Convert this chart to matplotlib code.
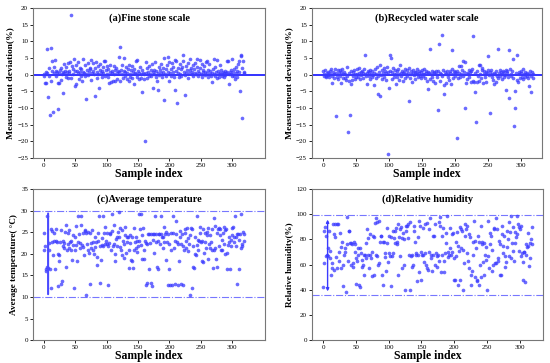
import numpy as np
import matplotlib
matplotlib.use('Agg')
import matplotlib.pyplot as plt

plt.rcParams['font.family'] = ['Liberation Serif', 'DejaVu Serif']

# Measurement deviation (%) of the fine stone scale
fine_dev = [
    -0.5, 0.3, -2.6, -2.5, 0.8, 7.7, 0.5, -6.6, -0.3, 2.0, -12.0, -1.8, 8.0, 4.0, 1.1, -11.3, 0.6, 2.3, 4.4, 1.2,
    -0.5, 0.9, -10.2, -2.5, -2.6, 0.4, 1.4, -1.5, 1.9, 0.2, -5.4, 0.8, 3.2, 0.6, 1.0, -0.7, 2.4, 0.8, 3.6, -0.9,
    1.0, 0.6, 3.9, 18.0, -1.0, 2.5, 1.7, 0.3, 4.6, 1.1, -3.5, 3.0, -2.8, 1.0, 3.7, 0.4, -1.2, 2.0, 0.7, -0.5,
    1.6, -1.8, 0.8, 4.7, 0.5, -0.4, 2.9, 0.2, -7.2, 1.3, 3.4, -0.2, 0.9, 1.7, 2.1, 4.5, -1.5, 0.6, 3.5, 1.0,
    0.3, 1.9, -6.5, 3.7, 0.8, -1.0, 2.6, 0.2, -4.0, 3.1, 1.4, 0.5, -0.6, 1.2, 2.2, 0.4, 4.0, -0.3, 4.1, 1.5,
    0.2, 2.5, -0.8, 1.6, -2.4, 0.7, 3.0, -2.2, 1.1, 0.6, -2.0, 2.7, 0.1, 1.3, -1.9, 2.0, 0.4, -1.4, 1.0, 0.9,
    5.3, 8.3, -2.0, 1.5, 0.2, 3.0, -0.9, 1.2, 5.1, -0.4, 0.8, 2.3, -1.2, 0.5, 1.7, -1.8, 2.9, 0.3, -0.7, 1.4,
    2.6, -1.1, 0.9, -2.7, 1.8, 0.4, 4.2, 0.2, -0.6, 4.5, 1.2, -1.3, 0.5, 2.3, 0.1, -0.9, 1.5, -5.3, 0.6, -1.4,
    0.3, -19.8, 3.9, 0.4, -1.1, 1.9, 0.7, -0.5, 2.5, 0.2, 1.3, -0.3, 3.2, 0.8, -4.0, 1.5, 0.2, 3.7, -0.8, 1.1,
    -2.0, -4.5, 0.6, 2.2, -0.2, 1.4, 0.5, 3.3, -0.6, 0.9, 2.0, -7.5, 5.0, 0.3, 1.6, -0.4, 2.8, 5.2, 0.7, 3.7,
    -1.8, 0.4, 1.7, -0.3, 3.6, 0.9, 2.4, -0.7, 4.3, -4.5, 1.2, 4.0, -8.4, 0.5, 1.9, -0.8, 3.1, 0.3, 1.6, -0.5,
    2.2, 4.0, 6.0, 0.8, -0.2, -6.1, 2.7, 0.4, 1.5, 3.6, -0.9, 0.6, 1.3, 4.7, 2.0, 0.2, 0.9, -0.4, 3.0, 1.7,
    0.5, 3.5, 0.1, 2.4, 4.8, -0.3, 1.1, 0.6, 4.5, 1.9, 0.2, 3.2, -0.6, 1.4, 0.7, 2.5, -0.1, 0.9, 3.9, 4.2,
    0.4, -0.8, 1.3, 3.3, 0.2, 1.0, -0.5, -2.2, 0.6, 1.8, 0.1, 4.6, -0.3, 2.2, 0.8, -0.9, 4.5, 1.1, 0.3, -0.6,
    3.0, 0.5, 1.4, -0.4, 0.2, 0.9, -0.7, 0.6, 1.2, -0.2, 0.4, 0.8, 4.2, 4.0, 0.3, -2.8, 0.7, 1.5, 0.1, -0.5,
    4.7, 0.9, -0.3, 1.6, -1.4, 0.5, 2.3, -0.6, 1.1, 3.2, 4.2, 0.7, -5.0, 6.0, 5.6, -12.9, 2.1, 4.0, 0.9, 0.6,
]

# Measurement deviation (%) of the recycled water scale
water_dev = [
    1.0, -0.3, 0.2, 1.5, -0.5, -0.8, 0.4, -0.2, 0.9, -0.6, 1.2, 0.3, 1.6, -0.4, -2.5, 0.8, 0.1, -1.1, 1.7, 0.5,
    -12.3, -0.7, 1.4, -1.2, 0.6, 1.5, -0.3, -2.6, 0.9, 1.6, 0.2, -1.0, 0.7, 0.1, -0.9, -1.5, 2.4, -0.4, -17.3, -2.0,
    0.4, -12.0, -2.8, 1.1, -1.7, -0.5, 0.8, 1.3, -1.2, 0.3, -0.8, 1.6, 0.2, -0.6, 1.9, 0.5, -1.3, 0.9, -0.2, 1.2,
    -0.9, 0.4, 1.7, 0.1, 5.8, -0.5, 0.6, -2.9, 1.0, -0.3, 0.7, -1.4, 1.3, 0.2, -0.8, 1.1, -0.1, 0.5, -3.1, 1.8,
    0.3, -1.0, 2.3, -0.4, -5.8, 0.8, -6.3, 2.9, -0.2, 1.4, -1.2, 0.6, 2.0, -0.7, 1.0, -1.6, 0.4, 2.2, -23.8, 0.9,
    -3.9, 1.2, 6.0, 5.0, -1.3, 0.7, 2.1, 0.2, -0.6, 1.5, -2.9, 0.3, 1.0, -0.8, 1.6, 0.1, -1.5, 2.9, 0.5, -0.3,
    1.1, -2.0, 0.4, 0.8, -1.0, 1.7, 0.2, -0.4, 1.3, 0.6, -7.8, 1.9, -0.9, 0.3, 1.0, -2.2, 0.5, 1.4, -0.1, 0.7,
    -1.4, 0.9, 0.2, 1.6, -0.7, 0.4, 1.2, -0.3, 0.8, -1.1, 1.5, 0.1, -0.5, 1.8, 0.3, -0.9, 1.0, 0.6, -2.0, 0.9,
    -4.3, 0.5, -1.3, 7.8, 0.2, -0.6, 1.0, -1.8, 0.4, 0.9, -2.6, 1.1, 0.3, -0.8, -10.5, 1.0, 9.1, 0.6, -1.9, 0.2,
    12.0, -0.4, 1.5, -3.2, -5.9, 0.7, 0.1, -2.4, 1.2, -0.6, 0.3, -1.7, 1.0, 0.4, -2.8, 1.6, 7.5, -0.9, 0.2, 1.1,
    0.9, -0.3, 0.6, -19.0, 1.0, -1.0, 0.4, 2.6, -0.7, 0.2, 2.7, 1.3, -0.5, 4.2, 0.8, 3.8, -10.0, -2.5, 0.5, -1.2,
    0.3, 1.4, -0.8, 0.9, -2.1, 1.1, 1.7, -2.0, 11.5, -2.2, -5.2, 0.6, -14.2, -2.1, 1.2, -0.4, -1.8, 2.9, 0.2, 3.0,
    -0.9, 2.0, 1.5, -2.5, 0.3, 1.1, -0.6, 0.8, -2.3, 0.4, 5.5, 1.3, -0.2, -11.5, 0.9, 1.4, -0.8, 0.2, -1.6, 0.6,
    -2.7, 0.3, -2.2, 1.0, -0.5, 7.8, -1.1, 0.4, 1.4, -0.3, 0.7, -1.3, 0.2, 1.1, -0.6, 0.9, -0.2, 1.5, -4.5, 0.4,
    1.2, -0.8, -7.0, 7.3, 1.6, 0.3, -0.5, 1.0, 4.6, -0.9, -15.3, -4.9, -10.0, 0.5, 5.9, -1.5, -2.1, 0.2, 0.8, -1.0,
    1.1, 0.4, -0.6, 1.7, -1.2, 0.3, 0.9, -0.8, 0.1, -0.3, 0.6, -1.1, -3.3, 0.2, 1.0, -0.5, -5.1, 0.8, -1.0, 0.3,
]

# Average temperature (deg C)
avg_temp = [
    21.0, 24.8, 21.8, 16.0, 16.5, 17.0, 28.8, 16.8, 22.5, 20.8, 16.5, 12.0, 25.8, 25.3, 22.8, 19.8, 24.8, 23.0, 16.5, 25.8,
    23.0, 22.8, 20.0, 12.6, 18.3, 19.8, 22.8, 25.6, 12.9, 13.6, 23.0, 21.8, 22.6, 21.3, 25.0, 26.8, 17.0, 20.8, 24.8, 22.3,
    25.6, 21.3, 22.8, 23.0, 20.8, 18.5, 24.3, 22.0, 12.0, 23.8, 20.8, 26.5, 22.0, 18.3, 28.8, 22.8, 24.6, 21.3, 22.5, 26.8,
    28.8, 22.0, 24.8, 21.6, 19.8, 25.3, 25.6, 10.5, 24.8, 22.3, 20.8, 25.0, 20.3, 24.8, 13.0, 22.5, 21.3, 25.5, 22.8, 21.0,
    20.0, 23.8, 21.5, 22.8, 17.5, 19.3, 24.8, 23.0, 28.8, 13.2, 21.8, 18.6, 23.6, 22.0, 28.8, 21.8, 24.8, 22.3, 26.3, 23.0,
    22.3, 24.8, 21.8, 12.8, 22.5, 24.6, 24.8, 20.8, 25.3, 29.3, 21.8, 22.3, 26.8, 20.0, 18.3, 23.5, 21.8, 23.8, 25.0, 29.8,
    24.0, 26.0, 21.5, 20.8, 19.8, 25.5, 23.0, 19.0, 22.3, 26.3, 24.3, 20.3, 22.8, 24.0, 23.8, 20.8, 16.8, 22.5, 24.3, 18.6,
    23.8, 18.3, 16.8, 21.0, 26.0, 22.8, 21.3, 24.0, 20.5, 23.0, 21.8, 29.3, 23.0, 25.8, 29.3, 22.0, 24.3, 18.8, 26.0, 18.8,
    21.0, 23.0, 22.5, 12.8, 13.2, 22.3, 24.6, 24.6, 16.5, 22.5, 24.6, 13.2, 12.6, 24.6, 23.3, 24.6, 20.3, 28.8, 22.8, 24.6,
    17.0, 23.0, 16.5, 24.6, 24.6, 22.3, 28.8, 24.6, 23.8, 21.3, 24.0, 26.3, 22.8, 24.6, 25.0, 18.6, 22.8, 12.8, 24.6, 16.5,
    22.3, 12.8, 24.8, 20.8, 12.7, 28.8, 24.8, 21.3, 23.0, 13.0, 27.5, 24.5, 22.8, 12.8, 22.3, 18.3, 25.3, 24.0, 13.0, 22.3,
    24.6, 12.8, 21.8, 20.8, 24.8, 25.8, 23.0, 21.3, 26.0, 20.6, 23.6, 22.3, 10.5, 24.3, 26.0, 12.0, 25.8, 21.8, 17.0, 16.8,
    23.8, 20.0, 19.8, 22.0, 28.8, 23.3, 20.8, 23.0, 24.8, 26.3, 22.8, 18.3, 23.0, 25.8, 18.0, 20.3, 22.8, 24.8, 21.3, 25.0,
    24.3, 18.8, 26.0, 22.3, 21.3, 24.3, 22.8, 25.8, 20.8, 16.8, 21.0, 28.3, 26.5, 21.3, 18.8, 24.8, 17.0, 25.8, 21.8, 26.0,
    24.3, 25.8, 21.0, 23.3, 20.8, 24.8, 22.3, 26.3, 25.5, 20.0, 25.8, 20.3, 16.5, 22.0, 24.0, 22.8, 16.5, 23.3, 21.8, 24.3,
    26.0, 26.3, 24.0, 22.8, 28.8, 24.0, 21.8, 24.6, 13.0, 24.6, 16.5, 23.3, 24.6, 21.3, 29.3, 22.3, 21.8, 25.0, 24.6, 23.0,
]

# Relative humidity (%)
rel_hum = [
    42, 61, 87, 90, 83, 67, 68, 73, 67, 87, 71, 65, 52, 57, 61, 92, 56, 84, 82, 92,
    66, 92, 57, 92, 63, 70, 85, 57, 74, 78, 60, 43, 68, 70, 73, 38, 98, 76, 63, 87,
    87, 77, 60, 77, 76, 58, 61, 78, 70, 76, 45, 65, 63, 73, 68, 44, 42, 73, 69, 64,
    58, 60, 68, 52, 68, 65, 77, 88, 68, 81, 57, 68, 84, 65, 51, 70, 83, 52, 82, 93,
    97, 68, 94, 67, 60, 95, 61, 78, 83, 83, 52, 78, 44, 78, 66, 69, 55, 89, 77, 62,
    69, 83, 67, 82, 43, 67, 69, 87, 81, 87, 77, 89, 76, 78, 92, 52, 82, 67, 88, 90,
    57, 81, 85, 80, 60, 40, 91, 87, 91, 81, 92, 68, 40, 94, 67, 58, 68, 60, 91, 87,
    78, 68, 69, 47, 82, 68, 95, 54, 91, 48, 70, 68, 68, 89, 62, 69, 92, 60, 57, 93,
    56, 88, 70, 97, 68, 65, 55, 83, 68, 83, 60, 92, 69, 67, 58, 68, 94, 63, 91, 98,
    54, 83, 68, 89, 54, 63, 69, 85, 77, 99, 66, 70, 68, 73, 89, 68, 84, 70, 85, 48,
    65, 48, 67, 78, 86, 75, 44, 71, 48, 90, 88, 73, 87, 72, 40, 61, 92, 83, 88, 69,
    91, 63, 84, 57, 82, 44, 52, 55, 68, 78, 95, 79, 50, 73, 48, 47, 83, 78, 44, 60,
    91, 50, 78, 76, 62, 77, 52, 68, 64, 74, 40, 67, 95, 57, 85, 76, 83, 72, 55, 60,
    88, 89, 61, 61, 97, 88, 63, 65, 79, 76, 52, 52, 84, 91, 75, 69, 83, 58, 67, 62,
    74, 87, 80, 67, 94, 86, 99, 65, 77, 90, 71, 63, 77, 86, 82, 84, 99, 92, 90, 71,
    88, 91, 67, 69, 48, 62, 70, 70, 46, 68, 76, 74, 75, 85, 59, 77, 65, 80, 90, 76,
]

temp_range = (10, 30)
hum_range = (35.5, 99.5)

pt_color = '#3a3aff'

fig = plt.figure(figsize=(5.5, 3.63), dpi=100)

ax_a = fig.add_axes([0.060, 0.565, 0.422, 0.413])
ax_b = fig.add_axes([0.567, 0.565, 0.418, 0.413])
ax_c = fig.add_axes([0.060, 0.063, 0.422, 0.416])
ax_d = fig.add_axes([0.567, 0.063, 0.420, 0.416])


def style(ax, title, ylabel, ysize, xlim, ylim, yticks):
    ax.set_xlim(*xlim)
    ax.set_ylim(*ylim)
    ax.set_xticks([0, 50, 100, 150, 200, 250, 300])
    ax.set_yticks(yticks)
    ax.tick_params(labelsize=5, length=2, width=0.6, direction='out', pad=1.5)
    for s in ax.spines.values():
        s.set_color('#777777')
        s.set_linewidth(0.8)
    ax.set_xlabel('Sample index', fontsize=8.5, fontweight='bold', labelpad=0)
    ax.set_ylabel(ylabel, fontsize=ysize, fontweight='bold', labelpad=2)
    ax.text(0.5, 0.935, title, transform=ax.transAxes, ha='center', va='center',
            fontsize=7.4, fontweight='bold')


# (a)
x = np.arange(len(fine_dev))
ax_a.axhline(0, color='#1010ff', lw=1.2, zorder=1)
ax_a.scatter(x, fine_dev, s=7, color=pt_color, alpha=0.75, lw=0, zorder=2)
style(ax_a, '(a)Fine stone scale', 'Measurement deviation(%)', 6.8, (-17, 352), (-25, 20),
      range(-25, 21, 5))

# (b)
x = np.arange(len(water_dev))
ax_b.axhline(0, color='#1010ff', lw=1.2, zorder=1)
ax_b.scatter(x, water_dev, s=7, color=pt_color, alpha=0.75, lw=0, zorder=2)
style(ax_b, '(b)Recycled water scale', 'Measurement deviation(%)', 6.8, (-17, 332), (-25, 20),
      range(-25, 21, 5))

# (c)
x = np.arange(len(avg_temp))
for v in temp_range:
    ax_c.axhline(v, color='#5555ff', lw=0.8, ls='-.', alpha=0.8, zorder=1)
ax_c.annotate('', xy=(7, temp_range[1]), xytext=(7, temp_range[0]),
              arrowprops=dict(arrowstyle='-', color='#4a4aff', lw=1.5))
ax_c.scatter(x, avg_temp, s=7, color=pt_color, alpha=0.75, lw=0, zorder=2)
style(ax_c, '(c)Average temperature', 'Average temperature( \u00b0C)', 6.6, (-17, 352), (0, 35),
      range(0, 36, 5))

# (d)
x = np.arange(len(rel_hum))
for v in hum_range:
    ax_d.axhline(v, color='#5555ff', lw=0.8, ls='-.', alpha=0.8, zorder=1)
ax_d.annotate('', xy=(7, 98), xytext=(7, 36.5),
              arrowprops=dict(arrowstyle='<|-|>', color='#3a3aff', lw=1.0,
                              mutation_scale=4))
ax_d.scatter(x, rel_hum, s=7, color=pt_color, alpha=0.75, lw=0, zorder=2)
style(ax_d, '(d)Relative humidity', 'Relative humidity(%)', 6.6, (-17, 335), (0, 120),
      range(0, 121, 20))

fig.savefig('out.png', dpi=100)
